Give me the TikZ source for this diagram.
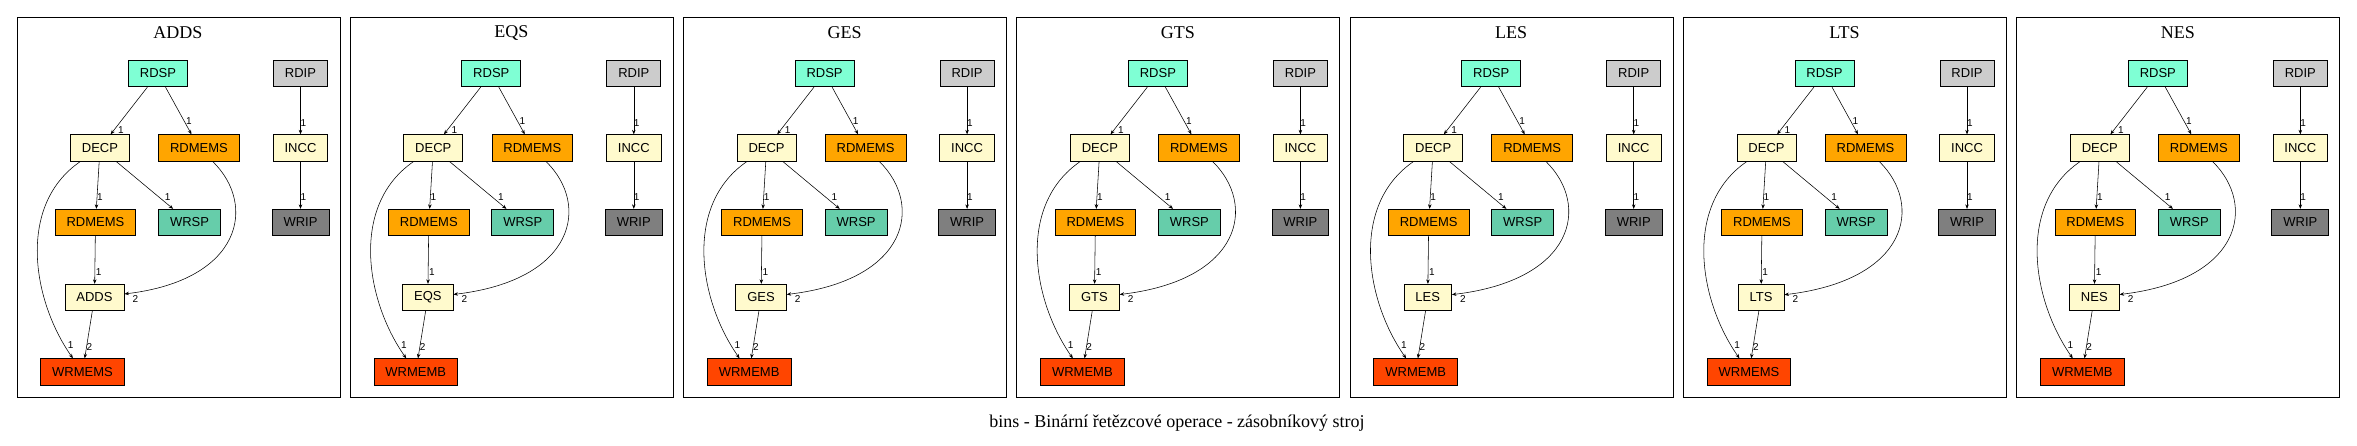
\documentclass[tikz,border=0pt]{standalone}
\usepackage{fontspec}
\setmainfont{Liberation Serif}
\newfontfamily\nodefont{Liberation Sans}
\usetikzlibrary{arrows.meta}
\definecolor{cRDSP}{HTML}{7FFFD4}
\definecolor{cRDIP}{HTML}{CCCCCC}
\definecolor{cLEM}{HTML}{FFFACD}
\definecolor{cORA}{HTML}{FFA500}
\definecolor{cWRSP}{HTML}{66CDAA}
\definecolor{cWRIP}{HTML}{7F7F7F}
\definecolor{cWRM}{HTML}{FF4500}
\tikzset{
  box/.style={draw, line width=0.8pt, minimum height=26.5pt, inner xsep=11.5pt, inner ysep=0pt,
    font=\nodefont\fontsize{13}{13}\selectfont},
  frame/.style={draw, line width=0.9pt, minimum width=323pt, minimum height=380pt, inner sep=0pt},
  ptitle/.style={font=\fontsize{18}{18}\selectfont, inner sep=0pt},
  edge/.style={draw, line width=0.55pt, -{Stealth[length=4.5pt,width=3.5pt]}},
  lbl/.style={font=\nodefont\fontsize{10}{10}\selectfont, inner sep=0pt},
}
\newcommand\drawpanel[4]{%
\begin{scope}[xshift=#2pt]
  \node[frame] (#1frame) at (161.5,207) {};
  \node[ptitle] (#1title) at (161,33) {#3};
  \node[box, fill=cRDSP] (#1rdsp) at (141,73.5) {RDSP};
  \node[box, fill=cRDIP] (#1rdip) at (283.5,73.5) {RDIP};
  \node[box, fill=cLEM] (#1decp) at (83,148) {DECP};
  \node[box, fill=cORA] (#1rdma) at (182,148) {RDMEMS};
  \node[box, fill=cLEM] (#1incc) at (283.5,148) {INCC};
  \node[box, fill=cORA] (#1rdmb) at (78.5,222.5) {RDMEMS};
  \node[box, fill=cWRSP] (#1wrsp) at (172.5,222.5) {WRSP};
  \node[box, fill=cWRIP] (#1wrip) at (283.5,222.5) {WRIP};
  \node[box, fill=cLEM] (#1op) at (77.5,297.5) {#3};
  \node[box, fill=cWRM] (#1wrm) at (65.5,372) {#4};
  \draw[edge] (#1rdsp) -- (#1decp);
  \draw[edge] (#1rdsp) -- (#1rdma);
  \draw[edge] (#1rdip) -- (#1incc);
  \draw[edge] (#1incc) -- (#1wrip);
  \draw[edge] (#1decp) -- (#1rdmb);
  \draw[edge] (#1decp) -- (#1wrsp);
  \draw[edge] (#1decp) .. controls (0,205) and (15,300) .. (#1wrm);
  \draw[edge] (#1rdma) .. controls (240,205) and (225,280) .. (#1op);
  \draw[edge] (#1rdmb) -- (#1op);
  \draw[edge] (#1op) -- (#1wrm);
  \node[lbl] (#1la) at (104,130) {1};
  \node[lbl] (#1lb) at (172,120.7) {1};
  \node[lbl] (#1lc) at (286.3,123.3) {1};
  \node[lbl] (#1ld) at (286.3,196.7) {1};
  \node[lbl] (#1le) at (83,196.7) {1};
  \node[lbl] (#1lf) at (150.7,196.7) {1};
  \node[lbl] (#1lg) at (53.7,345) {1};
  \node[lbl] (#1lh) at (81.7,271.7) {1};
  \node[lbl] (#1li) at ([shift={(11pt,-1.5pt)}]#1op.east) {2};
  \node[lbl] (#1lj) at (72.3,346.7) {2};
\end{scope}}
\begin{document}
\begin{tikzpicture}[x=1pt,y=-1pt]
\useasboundingbox (0,0) rectangle (2357,445);
\fill[white] (0,0) rectangle (2357,445);
\drawpanel{a}{17}{ADDS}{WRMEMS}
\drawpanel{b}{350.3}{EQS}{WRMEMB}
\drawpanel{c}{683.6}{GES}{WRMEMB}
\drawpanel{d}{1016.9}{GTS}{WRMEMB}
\drawpanel{e}{1350.2}{LES}{WRMEMB}
\drawpanel{f}{1683.5}{LTS}{WRMEMS}
\drawpanel{g}{2016.8}{NES}{WRMEMB}
\node[font=\fontsize{18}{18}\selectfont, inner sep=0pt] (caption) at (1177,423) {bins - Binární řetězcové operace - zásobníkový stroj};
\end{tikzpicture}
\end{document}
